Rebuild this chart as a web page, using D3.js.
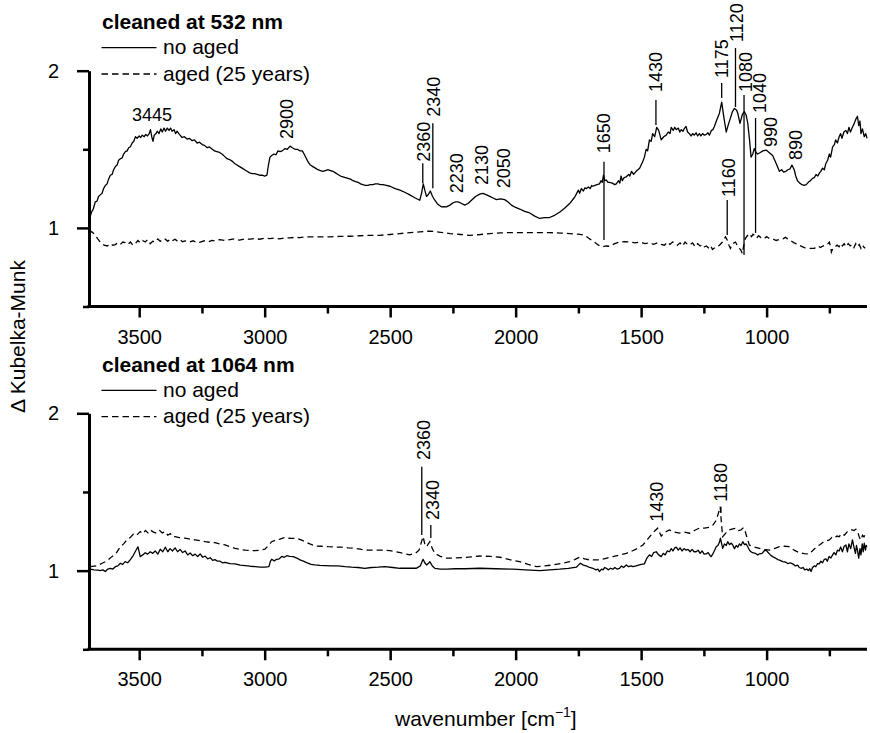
<!DOCTYPE html>
<html>
<head>
<meta charset="utf-8">
<script src="https://cdn.jsdelivr.net/npm/d3@7"></script>
<style>
  html, body { margin: 0; padding: 0; background: #fff; }
  text { font-family: "Liberation Sans", Arial, Helvetica, sans-serif; fill: #000; }
</style>
</head>
<body>
<svg id="chart" width="870" height="733"></svg>
<script>
// ---------- DATA ----------
const xMajorTicks = [3500, 3000, 2500, 2000, 1500, 1000];
const xMinorTicks = [3250, 2750, 2250, 1750, 1250, 750];
const yMajorTicks = [1, 2];
const yMinorTicks = [0.5, 1.5];

const panelTitles = ["cleaned at 532 nm", "cleaned at 1064 nm"];
const seriesNames = ["no aged", "aged (25 years)"];

// Panel 1 (532 nm), no aged : [wavenumber, ΔKM]
const s532NoAged = [
[3700,1.05],[3690,1.10],[3683,1.12],[3675,1.166],[3668,1.17],[3662,1.20],[3655,1.21],[3648,1.22],[3642,1.25],[3635,1.27],[3628,1.28],[3622,1.31],[3615,1.335],[3608,1.34],[3602,1.37],[3595,1.39],[3588,1.40],[3582,1.43],[3575,1.44],[3568,1.445],[3562,1.47],[3555,1.485],[3548,1.49],[3542,1.51],[3535,1.516],[3528,1.54],[3522,1.55],[3515,1.58],[3508,1.57],[3500,1.585],[3494,1.575],[3488,1.59],[3480,1.58],[3474,1.595],[3467,1.585],[3460,1.60],[3455,1.625],[3450,1.58],[3445,1.55],[3440,1.59],[3433,1.60],[3428,1.615],[3421,1.60],[3414,1.63],[3408,1.61],[3401,1.635],[3395,1.615],[3388,1.635],[3381,1.62],[3375,1.635],[3369,1.615],[3361,1.625],[3355,1.60],[3349,1.615],[3340,1.595],[3329,1.575],[3320,1.58],[3309,1.565],[3300,1.57],[3289,1.555],[3280,1.56],[3269,1.54],[3260,1.545],[3249,1.53],[3240,1.525],[3229,1.51],[3220,1.515],[3209,1.50],[3200,1.49],[3190,1.485],[3180,1.48],[3170,1.47],[3160,1.455],[3150,1.44],[3140,1.435],[3130,1.425],[3120,1.41],[3110,1.40],[3100,1.39],[3090,1.38],[3080,1.37],[3070,1.36],[3060,1.35],[3050,1.345],[3040,1.345],[3030,1.34],[3020,1.335],[3010,1.335],[3000,1.33],[2991,1.335],[2985,1.40],[2979,1.45],[2972,1.46],[2963,1.47],[2955,1.465],[2947,1.49],[2939,1.485],[2930,1.49],[2919,1.505],[2910,1.50],[2899,1.52],[2890,1.51],[2879,1.50],[2870,1.50],[2859,1.49],[2850,1.49],[2843,1.47],[2835,1.445],[2827,1.42],[2818,1.40],[2808,1.39],[2798,1.38],[2788,1.37],[2778,1.365],[2768,1.36],[2758,1.365],[2748,1.37],[2738,1.365],[2728,1.36],[2718,1.35],[2708,1.34],[2698,1.33],[2688,1.325],[2678,1.32],[2668,1.315],[2658,1.31],[2648,1.30],[2638,1.295],[2628,1.29],[2618,1.28],[2609,1.275],[2599,1.27],[2589,1.27],[2579,1.275],[2569,1.275],[2559,1.28],[2549,1.28],[2539,1.275],[2529,1.275],[2515,1.27],[2501,1.265],[2480,1.25],[2461,1.24],[2440,1.225],[2422,1.21],[2400,1.19],[2382,1.176],[2375,1.22],[2368,1.28],[2362,1.24],[2355,1.20],[2347,1.215],[2340,1.235],[2331,1.20],[2322,1.176],[2310,1.15],[2296,1.134],[2286,1.135],[2276,1.134],[2262,1.145],[2249,1.16],[2239,1.165],[2229,1.166],[2215,1.155],[2203,1.145],[2190,1.155],[2176,1.176],[2160,1.20],[2143,1.215],[2130,1.22],[2116,1.21],[2103,1.20],[2090,1.19],[2077,1.18],[2060,1.185],[2044,1.18],[2030,1.165],[2017,1.145],[2000,1.13],[1984,1.12],[1964,1.105],[1944,1.095],[1924,1.075],[1904,1.06],[1885,1.065],[1865,1.066],[1845,1.08],[1825,1.10],[1805,1.125],[1785,1.155],[1765,1.195],[1750,1.24],[1745,1.22],[1738,1.25],[1730,1.235],[1724,1.255],[1718,1.25],[1710,1.26],[1703,1.25],[1697,1.27],[1692,1.265],[1684,1.27],[1676,1.275],[1666,1.28],[1660,1.30],[1655,1.29],[1650,1.335],[1645,1.30],[1639,1.305],[1632,1.29],[1626,1.29],[1615,1.285],[1605,1.275],[1599,1.28],[1590,1.30],[1585,1.285],[1580,1.33],[1575,1.30],[1568,1.32],[1559,1.325],[1550,1.34],[1545,1.33],[1538,1.36],[1530,1.34],[1520,1.36],[1513,1.37],[1506,1.38],[1500,1.40],[1494,1.42],[1487,1.45],[1480,1.50],[1474,1.49],[1467,1.56],[1460,1.55],[1454,1.60],[1446,1.58],[1438,1.64],[1430,1.62],[1420,1.56],[1410,1.58],[1400,1.59],[1392,1.61],[1385,1.60],[1380,1.64],[1372,1.62],[1366,1.64],[1360,1.625],[1352,1.635],[1346,1.61],[1340,1.625],[1333,1.615],[1327,1.635],[1321,1.645],[1315,1.61],[1308,1.60],[1301,1.585],[1295,1.60],[1288,1.59],[1281,1.605],[1275,1.585],[1268,1.60],[1262,1.585],[1255,1.60],[1248,1.59],[1240,1.595],[1234,1.605],[1228,1.59],[1220,1.62],[1214,1.625],[1208,1.645],[1198,1.69],[1188,1.73],[1179,1.80],[1170,1.70],[1161,1.61],[1152,1.66],[1144,1.70],[1136,1.74],[1128,1.76],[1120,1.75],[1115,1.73],[1106,1.665],[1097,1.72],[1089,1.74],[1082,1.72],[1075,1.665],[1068,1.56],[1062,1.45],[1055,1.47],[1049,1.505],[1042,1.48],[1036,1.47],[1025,1.48],[1015,1.49],[1002,1.495],[990,1.48],[976,1.46],[962,1.41],[949,1.36],[940,1.37],[932,1.355],[923,1.36],[915,1.37],[907,1.375],[899,1.40],[890,1.37],[884,1.33],[877,1.30],[868,1.285],[859,1.275],[850,1.27],[842,1.275],[834,1.29],[826,1.30],[817,1.315],[810,1.32],[803,1.34],[796,1.33],[789,1.35],[784,1.36],[777,1.38],[770,1.37],[764,1.41],[757,1.43],[750,1.47],[745,1.45],[737,1.515],[730,1.53],[725,1.56],[718,1.54],[711,1.58],[705,1.60],[700,1.57],[692,1.61],[684,1.62],[678,1.60],[672,1.64],[666,1.61],[658,1.64],[652,1.66],[645,1.69],[638,1.71],[633,1.65],[628,1.68],[624,1.60],[618,1.63],[611,1.58],[605,1.60],[600,1.57]
];

// Panel 1 (532 nm), aged
const s532Aged = [
[3699,0.985],[3685,0.97],[3675,0.953],[3665,0.93],[3655,0.91],[3640,0.89],[3627,0.885],[3615,0.90],[3605,0.89],[3595,0.894],[3585,0.905],[3575,0.895],[3565,0.91],[3556,0.907],[3545,0.895],[3535,0.91],[3525,0.89],[3516,0.90],[3505,0.92],[3496,0.905],[3486,0.92],[3476,0.91],[3466,0.925],[3456,0.90],[3446,0.915],[3436,0.91],[3426,0.93],[3416,0.915],[3406,0.93],[3396,0.928],[3386,0.915],[3376,0.93],[3366,0.92],[3357,0.928],[3347,0.915],[3337,0.925],[3327,0.912],[3317,0.917],[3300,0.91],[3285,0.918],[3270,0.905],[3257,0.91],[3240,0.918],[3225,0.912],[3210,0.92],[3198,0.917],[3180,0.925],[3160,0.92],[3138,0.926],[3120,0.93],[3100,0.922],[3080,0.93],[3058,0.928],[3040,0.932],[3020,0.928],[3000,0.934],[2979,0.932],[2960,0.935],[2940,0.93],[2920,0.936],[2899,0.936],[2880,0.94],[2860,0.938],[2840,0.942],[2820,0.943],[2780,0.943],[2740,0.943],[2700,0.946],[2660,0.947],[2620,0.95],[2581,0.953],[2541,0.953],[2500,0.958],[2461,0.964],[2420,0.97],[2382,0.975],[2342,0.98],[2300,0.972],[2262,0.964],[2220,0.958],[2183,0.953],[2140,0.958],[2103,0.964],[2060,0.968],[2024,0.97],[1980,0.97],[1944,0.97],[1900,0.97],[1865,0.97],[1820,0.967],[1785,0.964],[1750,0.96],[1725,0.953],[1705,0.93],[1686,0.91],[1670,0.89],[1654,0.88],[1640,0.885],[1626,0.883],[1605,0.90],[1586,0.91],[1566,0.912],[1546,0.91],[1525,0.905],[1505,0.91],[1485,0.90],[1467,0.905],[1450,0.895],[1435,0.905],[1420,0.895],[1407,0.89],[1395,0.91],[1385,0.895],[1375,0.91],[1367,0.905],[1355,0.89],[1345,0.905],[1335,0.885],[1325,0.91],[1315,0.895],[1307,0.89],[1295,0.905],[1285,0.88],[1275,0.9],[1265,0.885],[1255,0.895],[1248,0.88],[1240,0.885],[1230,0.87],[1222,0.885],[1216,0.862],[1205,0.875],[1196,0.88],[1188,0.89],[1176,0.91],[1164,0.943],[1156,0.92],[1150,0.89],[1144,0.87],[1137,0.895],[1130,0.905],[1124,0.91],[1116,0.885],[1109,0.87],[1103,0.86],[1097,0.837],[1091,0.89],[1085,0.932],[1077,0.95],[1069,0.964],[1060,0.945],[1054,0.96],[1049,0.953],[1040,0.935],[1032,0.95],[1024,0.94],[1010,0.93],[1000,0.945],[989,0.932],[975,0.93],[962,0.92],[949,0.926],[935,0.93],[925,0.94],[918,0.932],[905,0.92],[890,0.905],[870,0.89],[850,0.875],[830,0.87],[810,0.87],[795,0.885],[785,0.875],[778,0.883],[765,0.89],[755,0.90],[750,0.91],[745,0.88],[742,0.847],[736,0.87],[727,0.88],[719,0.89],[711,0.88],[705,0.90],[698,0.885],[691,0.90],[684,0.88],[675,0.9],[667,0.885],[659,0.895],[652,0.875],[645,0.9],[638,0.88],[631,0.895],[624,0.87],[618,0.89],[611,0.875],[607,0.87]
];

// Panel 2 (1064 nm), no aged
const s1064NoAged = [
[3695,1.01],[3680,1.005],[3665,1.003],[3655,1.00],[3645,1.005],[3635,0.994],[3625,1.01],[3615,1.015],[3605,1.01],[3595,1.025],[3585,1.03],[3575,1.047],[3566,1.04],[3556,1.057],[3546,1.05],[3536,1.068],[3526,1.09],[3516,1.12],[3505,1.152],[3496,1.089],[3486,1.10],[3476,1.114],[3466,1.105],[3456,1.12],[3446,1.11],[3436,1.125],[3426,1.105],[3416,1.136],[3406,1.12],[3396,1.149],[3386,1.12],[3377,1.14],[3367,1.125],[3357,1.145],[3347,1.12],[3337,1.135],[3327,1.115],[3317,1.125],[3307,1.10],[3297,1.112],[3287,1.095],[3277,1.105],[3267,1.09],[3257,1.106],[3247,1.085],[3237,1.092],[3227,1.075],[3217,1.082],[3207,1.065],[3198,1.07],[3188,1.06],[3178,1.06],[3168,1.05],[3158,1.053],[3138,1.045],[3118,1.043],[3098,1.035],[3078,1.032],[3058,1.028],[3038,1.025],[3018,1.022],[2999,1.022],[2983,1.025],[2977,1.06],[2972,1.072],[2962,1.062],[2952,1.072],[2942,1.075],[2932,1.09],[2922,1.085],[2912,1.095],[2900,1.09],[2886,1.089],[2872,1.08],[2859,1.068],[2846,1.06],[2833,1.051],[2815,1.04],[2800,1.036],[2780,1.033],[2760,1.032],[2735,1.03],[2707,1.03],[2680,1.025],[2654,1.022],[2628,1.02],[2601,1.015],[2575,1.02],[2548,1.022],[2521,1.025],[2490,1.02],[2461,1.015],[2430,1.015],[2395,1.015],[2380,1.03],[2369,1.072],[2362,1.05],[2355,1.036],[2348,1.045],[2342,1.057],[2332,1.03],[2322,1.015],[2300,1.01],[2276,1.009],[2240,1.012],[2200,1.012],[2143,1.015],[2080,1.012],[2011,1.009],[1960,1.005],[1904,1.00],[1865,1.005],[1825,1.009],[1790,1.015],[1758,1.022],[1750,1.035],[1742,1.047],[1730,1.035],[1719,1.03],[1705,1.02],[1692,1.015],[1680,1.005],[1672,1.01],[1666,0.994],[1658,1.01],[1652,1.005],[1645,1.02],[1639,1.015],[1630,1.005],[1622,1.015],[1613,1.009],[1605,1.02],[1596,1.01],[1586,1.015],[1578,1.03],[1570,1.02],[1559,1.036],[1550,1.025],[1540,1.03],[1533,1.025],[1520,1.03],[1510,1.035],[1500,1.04],[1487,1.043],[1477,1.08],[1467,1.10],[1458,1.09],[1450,1.115],[1440,1.12],[1430,1.10],[1420,1.089],[1412,1.11],[1404,1.10],[1396,1.125],[1387,1.12],[1380,1.14],[1373,1.125],[1366,1.145],[1360,1.149],[1352,1.13],[1345,1.145],[1337,1.125],[1329,1.14],[1321,1.13],[1313,1.135],[1305,1.12],[1297,1.135],[1289,1.12],[1281,1.12],[1273,1.13],[1265,1.11],[1257,1.125],[1249,1.105],[1241,1.106],[1233,1.115],[1225,1.095],[1221,1.089],[1213,1.11],[1207,1.13],[1201,1.152],[1194,1.16],[1188,1.18],[1184,1.206],[1179,1.17],[1175,1.142],[1168,1.17],[1161,1.16],[1155,1.184],[1148,1.165],[1141,1.175],[1135,1.163],[1128,1.14],[1121,1.16],[1115,1.149],[1108,1.17],[1102,1.16],[1095,1.184],[1088,1.165],[1082,1.17],[1075,1.152],[1068,1.13],[1062,1.12],[1056,1.114],[1045,1.11],[1036,1.10],[1029,1.106],[1018,1.11],[1010,1.125],[1002,1.13],[994,1.115],[985,1.10],[976,1.089],[965,1.08],[955,1.07],[946,1.065],[936,1.057],[925,1.055],[916,1.045],[906,1.05],[896,1.043],[885,1.03],[876,1.035],[870,1.02],[863,1.015],[855,1.02],[848,1.005],[840,1.01],[834,1.00],[828,1.012],[823,0.994],[817,1.02],[810,1.03],[804,1.025],[797,1.045],[790,1.043],[784,1.06],[777,1.05],[770,1.072],[764,1.075],[758,1.06],[751,1.09],[744,1.08],[737,1.10],[731,1.115],[724,1.10],[718,1.13],[711,1.125],[705,1.15],[698,1.12],[691,1.155],[684,1.163],[678,1.12],[672,1.17],[665,1.14],[658,1.195],[652,1.15],[646,1.11],[642,1.16],[638,1.13],[633,1.08],[628,1.14],[624,1.10],[619,1.17],[615,1.12],[611,1.174],[606,1.13],[603,1.16],[600,1.152]
];

// Panel 2 (1064 nm), aged
const s1064Aged = [
[3695,1.025],[3670,1.03],[3648,1.047],[3630,1.06],[3609,1.089],[3592,1.11],[3575,1.152],[3562,1.17],[3549,1.195],[3536,1.21],[3523,1.233],[3510,1.225],[3496,1.248],[3485,1.235],[3475,1.255],[3465,1.24],[3456,1.259],[3443,1.245],[3430,1.238],[3418,1.255],[3408,1.24],[3396,1.248],[3386,1.225],[3376,1.235],[3366,1.215],[3357,1.216],[3340,1.21],[3317,1.206],[3297,1.20],[3277,1.195],[3257,1.19],[3237,1.184],[3217,1.18],[3198,1.178],[3178,1.17],[3158,1.163],[3138,1.152],[3118,1.142],[3098,1.135],[3078,1.13],[3058,1.128],[3038,1.127],[3018,1.13],[2999,1.136],[2985,1.16],[2972,1.184],[2955,1.195],[2939,1.20],[2922,1.21],[2906,1.206],[2890,1.205],[2872,1.206],[2855,1.195],[2839,1.184],[2820,1.17],[2800,1.157],[2774,1.155],[2747,1.152],[2720,1.15],[2694,1.149],[2667,1.145],[2640,1.142],[2614,1.135],[2587,1.13],[2560,1.13],[2534,1.13],[2501,1.127],[2460,1.115],[2422,1.10],[2400,1.11],[2385,1.13],[2369,1.216],[2362,1.17],[2355,1.152],[2348,1.17],[2342,1.184],[2332,1.14],[2322,1.11],[2300,1.09],[2276,1.079],[2243,1.08],[2210,1.083],[2176,1.088],[2143,1.093],[2100,1.09],[2063,1.085],[2024,1.07],[1984,1.057],[1950,1.04],[1917,1.025],[1885,1.03],[1851,1.036],[1818,1.045],[1785,1.057],[1765,1.07],[1745,1.085],[1725,1.075],[1705,1.068],[1685,1.068],[1666,1.068],[1640,1.078],[1613,1.089],[1585,1.10],[1559,1.11],[1536,1.125],[1513,1.142],[1493,1.163],[1474,1.20],[1454,1.238],[1444,1.255],[1434,1.27],[1427,1.245],[1420,1.22],[1404,1.245],[1387,1.259],[1367,1.245],[1347,1.238],[1327,1.245],[1307,1.238],[1288,1.255],[1268,1.27],[1248,1.27],[1228,1.276],[1214,1.29],[1201,1.32],[1193,1.36],[1185,1.406],[1180,1.30],[1175,1.216],[1162,1.24],[1148,1.259],[1135,1.265],[1122,1.27],[1112,1.255],[1102,1.259],[1095,1.27],[1089,1.27],[1080,1.22],[1069,1.163],[1050,1.15],[1029,1.142],[1009,1.135],[989,1.13],[969,1.14],[949,1.152],[930,1.155],[910,1.152],[890,1.13],[870,1.114],[850,1.108],[830,1.106],[815,1.13],[800,1.152],[788,1.165],[775,1.18],[762,1.19],[750,1.195],[740,1.21],[730,1.205],[720,1.22],[711,1.216],[700,1.235],[690,1.225],[680,1.245],[671,1.248],[660,1.26],[652,1.255],[644,1.263],[636,1.24],[630,1.21],[624,1.195],[618,1.225],[612,1.215],[604,1.238]
];

// Peak annotations (label text, wavenumber, ΔKM where the rotated label starts)
const annot532Labels = ["2900","2360","2340","2230","2130","2050","1650","1430","1175","1120","1080","1040","990","890","1160"];
const annot532Wn     = [2911, 2368, 2328, 2235, 2135, 2046, 1648, 1441, 1179, 1120, 1082, 1027, 984, 883, 1153];
const annot532Km     = [1.566,1.421,1.707,1.220,1.273,1.252,1.475,1.865,1.954,2.183,1.865,1.731,1.515,1.432,1.197];
// leader lines: wavenumber, ΔKM from, ΔKM to (null = none)
const lead532Wn      = [null, 2370, 2330, null, null, null, 1648, 1441, 1179, 1124, 1090, 1044, null, null, 1157];
const lead532From    = [null, 1.411,1.665,null, null, null, 1.421,1.814,1.922,2.144,1.845,1.699,null, null, 1.177];
const lead532To      = [null, 1.284,1.252,null, null, null, 0.923,1.655,1.826,1.769,0.828,0.968,null, null, 0.955];
const horiz532Label = "3445", horiz532Wn = 3449, horiz532Km = 1.680;

const annot1064Labels = ["2360","2340","1430","1180"];
const annot1064Wn     = [2368, 2330, 1438, 1182];
const annot1064Km     = [1.703,1.322,1.311,1.438];
const lead1064Wn      = [2374, 2338, null, 1182];
const lead1064From    = [1.661,1.290,null, 1.406];
const lead1064To      = [1.226,1.207,null, 1.366];

// ---------- DRAW ----------
const svg = d3.select("#chart");
const FONT = 20, BIG = 21, ANN = 18;

const x = d3.scaleLinear().domain([3700, 600]).range([89, 867]);

const panels = [
  { title: panelTitles[0], top: 70.7, bottom: 306.5, s1: s532NoAged, s2: s532Aged,
    ann: [annot532Labels, annot532Wn, annot532Km, lead532Wn, lead532From, lead532To], horiz: true },
  { title: panelTitles[1], top: 413.3, bottom: 649.3, s1: s1064NoAged, s2: s1064Aged,
    ann: [annot1064Labels, annot1064Wn, annot1064Km, lead1064Wn, lead1064From, lead1064To], horiz: false }
];

panels.forEach((p) => {
  const y = d3.scaleLinear().domain([0.5, 2]).range([p.bottom, p.top]);
  const g = svg.append("g");

  const xa = g.append("g").attr("transform", `translate(0,${p.bottom})`)
    .call(d3.axisBottom(x).tickValues(xMajorTicks).tickSize(11).tickSizeOuter(0).tickFormat(d3.format("d")));
  xa.select(".domain").attr("stroke-width", 3).attr("d", `M${x.range()[0] - 1.5},0H${x.range()[1]}`);
  xa.selectAll(".tick line").attr("stroke-width", 2.5);
  xa.selectAll(".tick text").attr("y", 37).attr("dy", 0)
    .style("font-size", FONT + "px").style("font-family", "Liberation Sans, Arial, sans-serif");
  const xm = g.append("g").attr("transform", `translate(0,${p.bottom})`)
    .call(d3.axisBottom(x).tickValues(xMinorTicks).tickSize(7).tickSizeOuter(0).tickFormat(""));
  xm.select(".domain").remove();
  xm.selectAll(".tick line").attr("stroke-width", 2.5);

  const ya = g.append("g").attr("transform", `translate(89,0)`)
    .call(d3.axisLeft(y).tickValues(yMajorTicks).tickSize(12).tickSizeOuter(0).tickPadding(18).tickFormat(d3.format("d")));
  ya.select(".domain").attr("stroke-width", 3);
  ya.selectAll(".tick line").attr("stroke-width", 2.5);
  ya.selectAll(".tick text").attr("dy", "0.33em")
    .style("font-size", FONT + "px").style("font-family", "Liberation Sans, Arial, sans-serif");
  const ym = g.append("g").attr("transform", `translate(89,0)`)
    .call(d3.axisLeft(y).tickValues(yMinorTicks).tickSize(6).tickSizeOuter(0).tickFormat(""));
  ym.select(".domain").remove();
  ym.selectAll(".tick line").attr("stroke-width", 2.5);

  const line = d3.line().x(d => x(d[0])).y(d => y(d[1]));
  g.append("path").datum(p.s1).attr("d", line)
    .attr("fill", "none").attr("stroke", "#000").attr("stroke-width", 1.3).attr("stroke-linejoin", "round");
  g.append("path").datum(p.s2).attr("d", line)
    .attr("fill", "none").attr("stroke", "#000").attr("stroke-width", 1.3).attr("stroke-dasharray", "6,4");

  g.append("text").attr("x", 102).attr("y", p.top - 41.4).text(p.title)
    .style("font-size", BIG + "px").style("font-weight", "bold");
  const lg = [[p.top - 23, p.top - 16.7, null], [p.top + 3.3, p.top + 10, "6.5,4"]];
  lg.forEach((l, i) => {
    g.append("line").attr("x1", 101.5).attr("x2", 156.5).attr("y1", l[0]).attr("y2", l[0])
      .attr("stroke", "#000").attr("stroke-width", 1.3).attr("stroke-dasharray", l[2]);
    g.append("text").attr("x", 163).attr("y", l[1]).text(seriesNames[i]).style("font-size", BIG + "px");
  });

  const [labs, wns, kms, lw, lf, lt] = p.ann;
  labs.forEach((lab, i) => {
    g.append("text")
      .attr("transform", `translate(${x(wns[i])},${y(kms[i])}) rotate(-90)`)
      .attr("dy", "0.35em").text(lab).style("font-size", ANN + "px");
    if (lw[i] !== null) {
      g.append("line").attr("x1", x(lw[i])).attr("x2", x(lw[i]))
        .attr("y1", y(lf[i])).attr("y2", y(lt[i]))
        .attr("stroke", "#000").attr("stroke-width", 1.3);
    }
  });
  if (p.horiz) {
    g.append("text").attr("x", x(horiz532Wn)).attr("y", y(horiz532Km))
      .attr("text-anchor", "middle").text(horiz532Label).style("font-size", ANN + "px");
  }
});

svg.append("text")
  .attr("transform", "translate(24.5,336.5) rotate(-90)")
  .attr("text-anchor", "middle").style("font-size", BIG + "px")
  .text("\u0394 Kubelka-Munk");

const xl = svg.append("text").attr("x", 395).attr("y", 726).style("font-size", BIG + "px");
xl.append("tspan").text("wavenumber [cm");
xl.append("tspan").attr("dy", -9).style("font-size", "14px").text("\u22121");
xl.append("tspan").attr("dy", 9).text("]");
</script>
</body>
</html>
